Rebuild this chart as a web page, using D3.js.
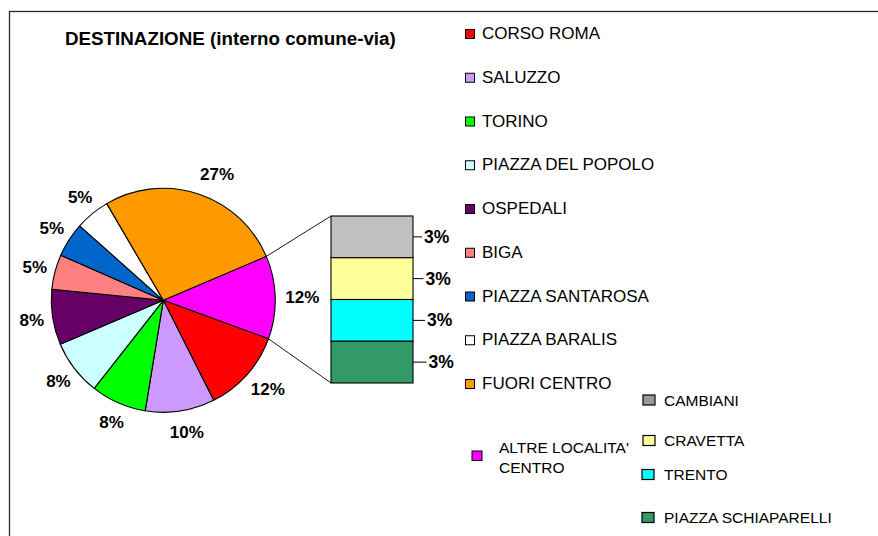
<!DOCTYPE html>
<html>
<head>
<meta charset="utf-8">
<script src="https://cdn.jsdelivr.net/npm/d3@7"></script>
<style>
  html, body { margin: 0; padding: 0; background: #fff; }
  svg { display: block; font-family: "Liberation Sans", Arial, sans-serif; }
</style>
</head>
<body>
<svg id="chart" width="878" height="536"></svg>
<script>
// Pie slices: the first entry is the grouped slice that is broken out into the bar
const pieCategories = ["ALTRE LOCALITA' CENTRO", "CORSO ROMA", "SALUZZO", "TORINO", "PIAZZA DEL POPOLO",
  "OSPEDALI", "BIGA", "PIAZZA SANTAROSA", "PIAZZA BARALIS", "FUORI CENTRO"];
const pieValues = [12, 12, 10, 8, 8, 8, 5, 5, 5, 27];
const pieColors = ["#FF00FF", "#FF0000", "#CC99FF", "#00FF00", "#CCFFFF",
  "#660066", "#FF8080", "#0066CC", "#FFFFFF", "#FF9900"];

// Breakdown of the grouped slice, top of the bar first
const barCategories = ["CAMBIANI", "CRAVETTA", "TRENTO", "PIAZZA SCHIAPARELLI"];
const barValues = [3, 3, 3, 3];
const barColors = ["#C0C0C0", "#FFFF99", "#00FFFF", "#339966"];
const barLegendColors = ["#999999", "#FFFF99", "#00FFFF", "#339966"];

const titleText = "DESTINAZIONE (interno comune-via)";

const svg = d3.select("#chart");

// outer chart frame (runs past the right and bottom edges)
svg.append("rect")
  .attr("x", 9.5).attr("y", 11.5)
  .attr("width", 1000).attr("height", 1000)
  .attr("fill", "none").attr("stroke", "#262626").attr("stroke-width", 1.3);

svg.append("text")
  .attr("x", 65).attr("y", 45)
  .attr("font-size", 18.8).attr("font-weight", "bold")
  .attr("fill", "#000")
  .text(titleText);

// ---- pie ----
const cx = 163.3, cy = 300.3, r = 112;
const tilt = -1.5 * Math.PI / 180;
const groupShare = pieValues[0] / d3.sum(pieValues);
const start = Math.PI / 2 - groupShare * Math.PI + tilt; // grouped slice faces 3 o'clock

const pie = d3.pie().sort(null).value(d => d)
  .startAngle(start).endAngle(start + 2 * Math.PI);
const arcs = pie(pieValues);
const arc = d3.arc().innerRadius(0).outerRadius(r);

const gPie = svg.append("g").attr("transform", `translate(${cx},${cy})`);
gPie.selectAll("path.slice")
  .data(arcs)
  .join("path")
  .attr("class", "slice")
  .attr("d", arc)
  .attr("fill", (d, i) => pieColors[i])
  .attr("stroke", "#000")
  .attr("stroke-width", 1.1)
  .attr("stroke-linejoin", "round");

const total = d3.sum(pieValues);
gPie.selectAll("text.pct")
  .data(arcs)
  .join("text")
  .attr("class", "pct")
  .each(function (d) {
    const a = (d.startAngle + d.endAngle) / 2 - Math.PI / 2;
    d3.select(this)
      .attr("x", 3 + Math.cos(a) * (r + 24) + (Math.sin(a) < -0.9 ? 8 : 0))
      .attr("y", Math.sin(a) * (r + 21) + 6);
  })
  .attr("text-anchor", "middle")
  .attr("font-size", 17).attr("font-weight", "bold")
  .attr("fill", "#000")
  .text(d => Math.round(d.data / total * 100) + "%");

// ---- bar of the grouped slice ----
const barX0 = 331, barX1 = 413;
const y = d3.scaleLinear().domain([0, d3.sum(barValues)]).range([383, 216]);

// stack from the bottom up (last entry sits at the bottom)
const stacked = [];
let acc = 0;
for (let i = barValues.length - 1; i >= 0; i--) {
  stacked[i] = { y0: acc, y1: acc + barValues[i], v: barValues[i], i };
  acc += barValues[i];
}

// connector lines from the grouped slice edges to the bar corners
const g0 = arcs[0];
const edgePt = ang => [cx + Math.cos(ang - Math.PI / 2) * r, cy + Math.sin(ang - Math.PI / 2) * r];
const pTop = edgePt(g0.startAngle), pBot = edgePt(g0.endAngle);
svg.append("line")
  .attr("x1", pTop[0]).attr("y1", pTop[1])
  .attr("x2", barX0).attr("y2", y(d3.sum(barValues)))
  .attr("stroke", "#000").attr("stroke-width", 0.9);
svg.append("line")
  .attr("x1", pBot[0]).attr("y1", pBot[1])
  .attr("x2", barX0).attr("y2", y(0))
  .attr("stroke", "#000").attr("stroke-width", 0.9);

svg.selectAll("rect.seg")
  .data(stacked)
  .join("rect")
  .attr("class", "seg")
  .attr("x", barX0).attr("width", barX1 - barX0)
  .attr("y", d => y(d.y1))
  .attr("height", d => y(d.y0) - y(d.y1))
  .attr("fill", d => barColors[d.i])
  .attr("stroke", "#000").attr("stroke-width", 1.1);

svg.selectAll("line.tick")
  .data(stacked)
  .join("line")
  .attr("class", "tick")
  .attr("x1", barX1).attr("x2", d => barX1 + 9 + d.i * 1.5)
  .attr("y1", d => y((d.y0 + d.y1) / 2)).attr("y2", d => y((d.y0 + d.y1) / 2))
  .attr("stroke", "#000").attr("stroke-width", 1);
svg.selectAll("text.barpct")
  .data(stacked)
  .join("text")
  .attr("class", "barpct")
  .attr("x", d => barX1 + 11 + d.i * 1.5)
  .attr("y", d => y((d.y0 + d.y1) / 2) + 6)
  .attr("font-size", 17.5).attr("font-weight", "bold")
  .attr("fill", "#000")
  .text(d => Math.round(d.v / total * 100) + "%");

// ---- main legend (pie slices except the grouped one) ----
const legendItems = pieCategories.slice(1).map((name, k) => ({ name, color: pieColors[k + 1] }));
const legRows = svg.append("g").selectAll("g")
  .data(legendItems)
  .join("g")
  .attr("transform", (d, k) => `translate(465,${39 + k * 43.75})`);
legRows.append("rect")
  .attr("x", 0.5).attr("y", -9.5).attr("width", 9).attr("height", 9)
  .attr("fill", d => d.color).attr("stroke", "#000").attr("stroke-width", 1);
legRows.append("text")
  .attr("x", 17).attr("y", 0)
  .attr("font-size", 17).attr("fill", "#000")
  .text(d => d.name);

// grouped-slice legend entry, wrapped on two lines
const altre = svg.append("g").attr("transform", "translate(471.5,450.5)");
altre.append("rect")
  .attr("x", 0.5).attr("y", 0.5).attr("width", 10).attr("height", 9.5)
  .attr("fill", pieColors[0]).attr("stroke", "#000").attr("stroke-width", 1);
altre.append("text")
  .attr("x", 27.5).attr("y", 2.5)
  .attr("font-size", 15.5).attr("fill", "#000")
  .text(pieCategories[0].split(" ").slice(0, 2).join(" "));
altre.append("text")
  .attr("x", 27.5).attr("y", 22.5)
  .attr("font-size", 15.5).attr("fill", "#000")
  .text(pieCategories[0].split(" ").slice(2).join(" "));

// bar legend
const barLegendY = [405.5, 446, 480, 523];
const barLegendX = [642.5, 642.5, 641.5, 641.5];
const bl = svg.selectAll("g.bleg")
  .data(barCategories)
  .join("g")
  .attr("class", "bleg")
  .attr("transform", (d, i) => `translate(${barLegendX[i]},${barLegendY[i]})`);
bl.append("rect")
  .attr("x", 0.5).attr("y", -10.5).attr("width", 12).attr("height", 10)
  .attr("fill", (d, i) => barLegendColors[i]).attr("stroke", "#000").attr("stroke-width", 1.2);
bl.append("text")
  .attr("x", (d, i) => 664 - barLegendX[i]).attr("y", 0)
  .attr("font-size", 15.5).attr("fill", "#000")
  .text(d => d);
</script>
</body>
</html>
